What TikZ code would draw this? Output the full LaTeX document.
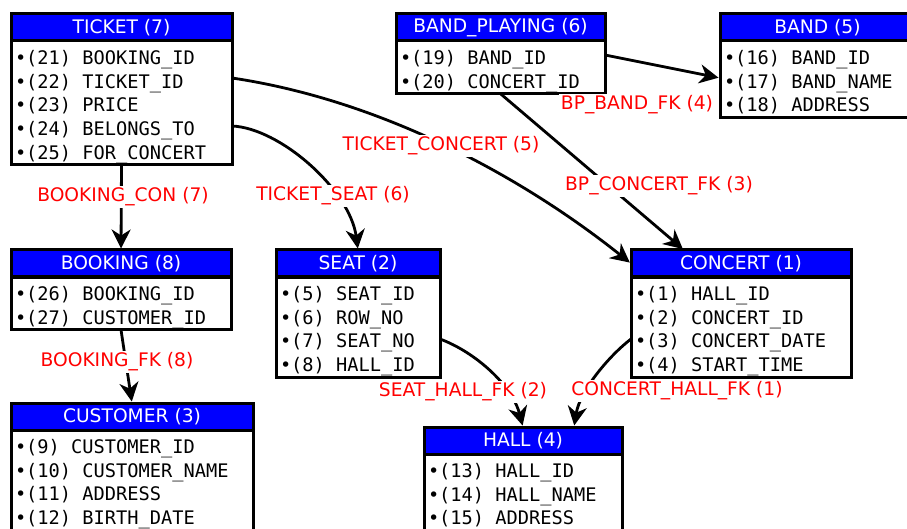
\documentclass[tikz,border=0pt]{standalone}
\usepackage{fontspec}
\setmainfont{DejaVu Sans}
\setmonofont{DejaVu Sans Mono}
\usetikzlibrary{arrows.meta,positioning}
\newcommand\cellgap{\hphantom{0}}

\begin{document}
\begin{tikzpicture}[
    x=1pt, y=-1pt,
    thead/.style={draw, fill=blue, text=white, line width=3pt, anchor=north west,
        outer sep=0pt, minimum height=27pt, inner sep=0pt,
        font=\fontsize{18.67}{22}\selectfont},
    tattr/.style={draw, fill=white, line width=3pt, outer sep=0pt, below=0pt of #1,
        align=left, inner xsep=4pt, inner ysep=0pt,
        font=\ttfamily\fontsize{18.67}{23.75}\selectfont,
        execute at begin node={\rule{0pt}{23.3pt}},
        execute at end node={\rule[-5.7pt]{0pt}{5.7pt}}},
    fk/.style={line width=2.8pt, shorten >=1.5pt, -{Stealth[length=19pt,width=19pt,inset=6pt]}},
    fklabel/.style={fill=white, text=red, inner sep=1.5pt, font=\fontsize{18.67}{22}\selectfont}
]
    \useasboundingbox (0,0) rectangle (907,529);

    % tables
    \node[thead, minimum width=221pt] (ticket) at (11,14) {TICKET (7)};
    \node[tattr=ticket, text width=213pt] (ticket-a) {•(21)\cellgap BOOKING\_ID\\•(22)\cellgap TICKET\_ID\\•(23)\cellgap PRICE\\•(24)\cellgap BELONGS\_TO\\•(25)\cellgap FOR\_CONCERT};
    \node[thead, minimum width=209pt] (bandplaying) at (396,14) {BAND\_PLAYING (6)};
    \node[tattr=bandplaying, text width=201pt] (bandplaying-a) {•(19)\cellgap BAND\_ID\\•(20)\cellgap CONCERT\_ID};
    \node[thead, minimum width=195pt] (band) at (720,14) {BAND (5)};
    \node[tattr=band, text width=187pt] (band-a) {•(16)\cellgap BAND\_ID\\•(17)\cellgap BAND\_NAME\\•(18)\cellgap ADDRESS};
    \node[thead, minimum width=220pt] (booking) at (11,250) {BOOKING (8)};
    \node[tattr=booking, text width=212pt] (booking-a) {•(26)\cellgap BOOKING\_ID\\•(27)\cellgap CUSTOMER\_ID};
    \node[thead, minimum width=164pt] (seat) at (276,250) {SEAT (2)};
    \node[tattr=seat, text width=156pt] (seat-a) {•(5)\cellgap SEAT\_ID\\•(6)\cellgap ROW\_NO\\•(7)\cellgap SEAT\_NO\\•(8)\cellgap HALL\_ID};
    \node[thead, minimum width=220pt] (concert) at (631,250) {CONCERT (1)};
    \node[tattr=concert, text width=212pt] (concert-a) {•(1)\cellgap HALL\_ID\\•(2)\cellgap CONCERT\_ID\\•(3)\cellgap CONCERT\_DATE\\•(4)\cellgap START\_TIME};
    \node[thead, minimum width=242pt] (customer) at (11,403) {CUSTOMER (3)};
    \node[tattr=customer, text width=234pt] (customer-a) {•(9)\cellgap CUSTOMER\_ID\\•(10)\cellgap CUSTOMER\_NAME\\•(11)\cellgap ADDRESS\\•(12)\cellgap BIRTH\_DATE};
    \node[thead, minimum width=198pt] (hall) at (424,427) {HALL (4)};
    \node[tattr=hall, text width=190pt] (hall-a) {•(13)\cellgap HALL\_ID\\•(14)\cellgap HALL\_NAME\\•(15)\cellgap ADDRESS};

    % foreign keys
    \draw[fk] (ticket-a.south) -- (booking.north);
    \draw[fk] ([yshift=-37pt]ticket-a.north east) .. controls (380,100) and (520,175) .. (concert.west);
    \draw[fk] ([yshift=-85pt]ticket-a.north east) .. controls (280,128) and (350,190) .. (seat.north);
    \draw[fk] ([yshift=-14pt]bandplaying-a.north east) -- ([yshift=-37pt]band-a.north west);
    \draw[fk] (bandplaying-a.south) -- ([xshift=53pt]concert.north west);
    \draw[fk] (booking-a.south) -- (customer.north);
    \draw[fk] ([yshift=-62pt]seat-a.north east) .. controls (475,352) and (512,385) .. (hall.north);
    \draw[fk] ([yshift=-62pt]concert-a.north west) .. controls (610,355) and (580,390) .. ([xshift=150pt]hall.north west);

    \node[fklabel] (l-bookingcon) at (123,197) {BOOKING\_CON (7)};
    \node[fklabel] (l-ticketseat) at (333,196) {TICKET\_SEAT (6)};
    \node[fklabel] (l-ticketconcert) at (441,146) {TICKET\_CONCERT (5)};
    \node[fklabel] (l-bpband) at (637,105) {BP\_BAND\_FK (4)};
    \node[fklabel] (l-bpconcert) at (659,186) {BP\_CONCERT\_FK (3)};
    \node[fklabel] (l-bookingfk) at (117,362) {BOOKING\_FK (8)};
    \node[fklabel] (l-seathall) at (463,392) {SEAT\_HALL\_FK (2)};
    \node[fklabel] (l-concerthall) at (677,391) {CONCERT\_HALL\_FK (1)};
\end{tikzpicture}
\end{document}
